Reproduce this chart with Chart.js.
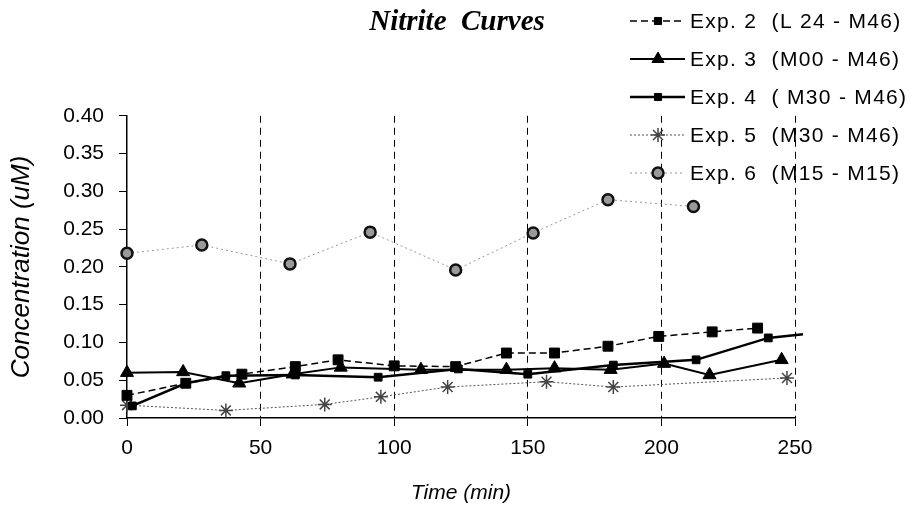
<!DOCTYPE html>
<html>
<head>
<meta charset="utf-8">
<script src="https://cdn.jsdelivr.net/npm/chart.js@4.4.1/dist/chart.umd.min.js"></script>
<style>
  html, body { margin: 0; padding: 0; background: #fff; }
  #container { width: 914px; height: 510px; }
</style>
</head>
<body>
<div id="container"><canvas id="myChart" width="914" height="510"></canvas></div>
<script>
// values (time in min, concentration in uM)
const exp2Time = [0, 22, 43, 63, 79, 100, 123, 142, 160, 180, 199, 219, 236];
const exp2Conc = [0.030, 0.046, 0.058, 0.068, 0.077, 0.069, 0.068, 0.086, 0.086, 0.095, 0.108, 0.114, 0.119];

const exp3Time = [0, 21, 42, 62, 80, 110, 142, 160, 181, 201, 218, 245];
const exp3Conc = [0.060, 0.061, 0.046, 0.058, 0.067, 0.064, 0.064, 0.066, 0.064, 0.072, 0.057, 0.077];

const exp4Time = [2, 22, 37, 63, 94, 124, 150, 182, 213, 240, 253];
const exp4Conc = [0.016, 0.046, 0.056, 0.057, 0.054, 0.065, 0.058, 0.070, 0.077, 0.106, 0.111];

const exp5Time = [0, 37, 74, 95, 120, 157, 182, 247];
const exp5Conc = [0.017, 0.010, 0.018, 0.028, 0.041, 0.048, 0.041, 0.053];

const exp6Time = [0, 28, 61, 91, 123, 152, 180, 212];
const exp6Conc = [0.218, 0.229, 0.204, 0.246, 0.196, 0.245, 0.289, 0.280];

const seriesLabels = [
    'Exp. 2  (L 24 - M46)',
    'Exp. 3  (M00 - M46)',
    'Exp. 4  ( M30 - M46)',
    'Exp. 5  (M30 - M46)',
    'Exp. 6  (M15 - M15)'
];

const xTicks = [0, 50, 100, 150, 200, 250];
const yTicks = [0, 0.05, 0.10, 0.15, 0.20, 0.25, 0.30, 0.35, 0.40];

function toPoints(times, values) {
    return times.map((t, i) => ({ x: t, y: values[i] }));
}

// legend drawn as line + marker + text, like the original figure
const lineLegend = {
    id: 'lineLegend',
    afterDraw(chart) {
        const ctx = chart.ctx;
        chart.data.datasets.forEach((ds, i) => {
            const y = 21 + i * 38;
            ctx.save();
            ctx.strokeStyle = ds.borderColor;
            ctx.lineWidth = ds.borderWidth;
            ctx.setLineDash(ds.borderDash || []);
            ctx.beginPath();
            ctx.moveTo(630, y);
            ctx.lineTo(685, y);
            ctx.stroke();
            ctx.setLineDash([]);
            ctx.fillStyle = ds.pointBackgroundColor;
            ctx.strokeStyle = ds.pointBorderColor;
            ctx.lineWidth = ds.pointBorderWidth;
            Chart.helpers.drawPoint(ctx, {
                pointStyle: ds.pointStyle,
                radius: ds.legendRadius,
                borderWidth: ds.pointBorderWidth,
                rotation: 0
            }, 658, y);
            ctx.fillStyle = '#000';
            ctx.font = '21px "Liberation Sans", Arial, sans-serif';
            ctx.letterSpacing = '1.3px';
            ctx.textBaseline = 'middle';
            ctx.textAlign = 'left';
            ctx.fillText(seriesLabels[i], 690, y + 1);
            ctx.restore();
        });
    }
};

const ctx = document.getElementById('myChart').getContext('2d');
const myChart = new Chart(ctx, {
    type: 'line',
    data: {
        datasets: [{
            label: seriesLabels[0],
            data: toPoints(exp2Time, exp2Conc),
            borderColor: '#000',
            borderWidth: 1.5,
            borderDash: [7, 4],
            pointStyle: 'rect',
            pointRadius: 7,
            legendRadius: 5,
            pointBackgroundColor: '#000',
            pointBorderColor: '#000',
            pointBorderWidth: 1
        }, {
            label: seriesLabels[1],
            data: toPoints(exp3Time, exp3Conc),
            borderColor: '#000',
            borderWidth: 2,
            pointStyle: 'triangle',
            pointRadius: 7.5,
            legendRadius: 7,
            pointBackgroundColor: '#000',
            pointBorderColor: '#000',
            pointBorderWidth: 1
        }, {
            label: seriesLabels[2],
            data: toPoints(exp4Time, exp4Conc),
            borderColor: '#000',
            borderWidth: 2.5,
            pointStyle: 'rect',
            pointRadius: c => c.dataIndex === exp4Time.length - 1 ? 0 : 5.5,
            legendRadius: 5,
            pointBackgroundColor: '#000',
            pointBorderColor: '#000',
            pointBorderWidth: 1
        }, {
            label: seriesLabels[3],
            data: toPoints(exp5Time, exp5Conc),
            borderColor: '#555',
            borderWidth: 1,
            borderDash: [2, 2],
            pointStyle: 'star',
            pointRadius: 7,
            legendRadius: 7,
            pointBackgroundColor: '#444',
            pointBorderColor: '#444',
            pointBorderWidth: 1.5
        }, {
            label: seriesLabels[4],
            data: toPoints(exp6Time, exp6Conc),
            borderColor: '#999',
            borderWidth: 1,
            borderDash: [2, 3],
            pointStyle: 'circle',
            pointRadius: 5.5,
            legendRadius: 5.5,
            pointBackgroundColor: '#999',
            pointBorderColor: '#111',
            pointBorderWidth: 2.5
        }]
    },
    options: {
        responsive: false,
        animation: false,
        clip: false,
        layout: { padding: 0 },
        plugins: {
            legend: { display: false },
            tooltip: { enabled: false },
            title: {
                display: true,
                text: 'Nitrite  Curves',
                color: '#000',
                font: { family: '"Liberation Serif", "Times New Roman", serif', size: 29, style: 'italic', weight: 'bold' },
                padding: { top: 5, bottom: 76 }
            }
        },
        scales: {
            x: {
                type: 'linear',
                min: 0,
                max: 250,
                afterFit: s => { s.height = 92; },
                afterBuildTicks: s => { s.ticks = xTicks.map(v => ({ value: v })); },
                border: { display: true, color: '#000', width: 1.5, dash: [7, 5] },
                grid: {
                    color: c => c.tick && c.tick.value === 0 ? 'rgba(0,0,0,0)' : '#000',
                    lineWidth: 1,
                    tickLength: 8,
                    tickColor: '#000',
                    tickBorderDash: []
                },
                ticks: {
                    color: '#000',
                    padding: 10,
                    maxRotation: 0,
                    font: { family: '"Liberation Sans", Arial, sans-serif', size: 21 }
                },
                title: {
                    display: true,
                    text: 'Time (min)',
                    color: '#000',
                    font: { family: '"Liberation Sans", Arial, sans-serif', size: 21, style: 'italic' },
                    padding: { top: 0, bottom: 4 }
                }
            },
            y: {
                type: 'linear',
                min: 0,
                max: 0.4,
                afterFit: s => { s.width = 127; },
                afterBuildTicks: s => { s.ticks = yTicks.map(v => ({ value: v })); },
                border: { display: true, color: '#000', width: 1.5 },
                grid: {
                    drawOnChartArea: false,
                    tickLength: 8,
                    tickColor: '#000'
                },
                ticks: {
                    color: '#000',
                    padding: 15,
                    callback: v => v.toFixed(2),
                    font: { family: '"Liberation Sans", Arial, sans-serif', size: 21 }
                },
                title: {
                    display: true,
                    text: 'Concentration (uM)',
                    color: '#000',
                    font: { family: '"Liberation Sans", Arial, sans-serif', size: 26, style: 'italic' },
                    padding: { top: 6, bottom: 0 }
                }
            },
            y2: {
                position: 'right',
                display: true,
                afterFit: s => { s.width = 119; },
                grid: { display: false },
                border: { display: false },
                ticks: { display: false }
            }
        }
    },
    plugins: [lineLegend]
});
</script>
</body>
</html>
